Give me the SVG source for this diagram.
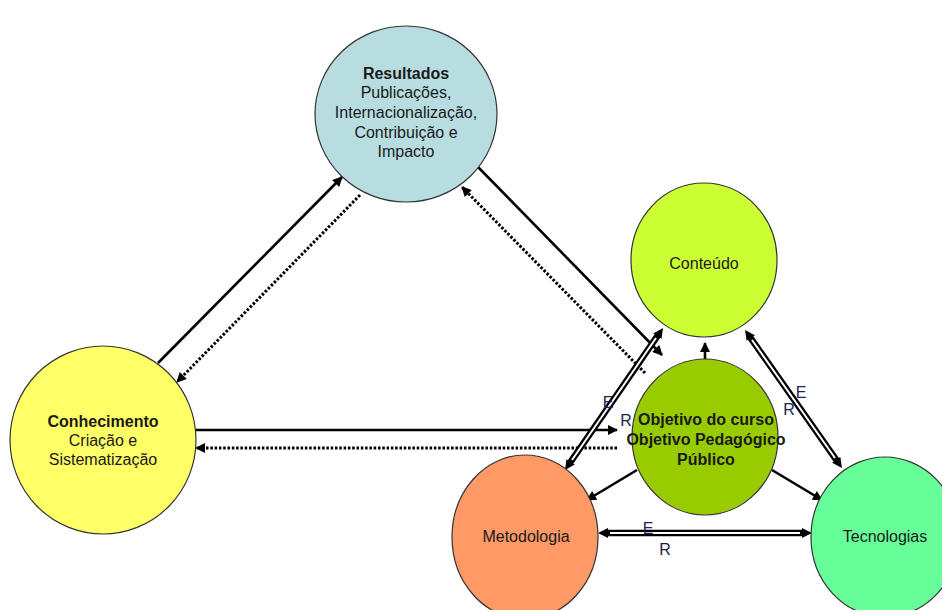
<svg xmlns="http://www.w3.org/2000/svg" width="942" height="610" viewBox="0 0 942 610">
<style>
.n{stroke:#333;stroke-width:1.2}
.t{font-family:"Liberation Sans",Arial,sans-serif;font-size:16px;fill:#1a1a1a;text-anchor:middle}
.b{font-weight:bold}
.s{stroke:#000;stroke-width:2.6;fill:none}
.d{stroke:#000;stroke-width:3;fill:none;stroke-dasharray:2.5 1.8}
.dk{stroke:#000;stroke-width:6.5;fill:none}
.dw{stroke:#fff;stroke-width:2;fill:none}
.lbl{font-family:"Liberation Sans",Arial,sans-serif;font-size:16px;fill:#1c2350;text-anchor:middle}
</style>
<defs>
<marker id="a" viewBox="0 0 10 10" refX="9" refY="5" markerWidth="11" markerHeight="10" markerUnits="userSpaceOnUse" orient="auto-start-reverse">
<path d="M0,0 L10,5 L0,10 z" fill="#000"/>
</marker>
<marker id="a2" viewBox="0 0 10 10" refX="1" refY="5" markerWidth="10" markerHeight="11" markerUnits="userSpaceOnUse" orient="auto-start-reverse">
<path d="M0,0 L10,5 L0,10 z" fill="#000"/>
</marker>
</defs>
<rect width="942" height="610" fill="#fff"/>
<g id="connectors">
<path class="s" d="M158,363 L342,177" marker-end="url(#a)"/>
<path class="d" d="M360,195 L177,382" marker-end="url(#a)"/>
<path class="s" d="M478,167 L662,355" marker-end="url(#a)"/>
<path class="d" d="M645,373 L462,187" marker-end="url(#a)"/>
<path class="s" d="M196,430 L617,430" marker-end="url(#a)"/>
<path class="d" d="M617,448 L196,448" marker-end="url(#a)"/>
<path class="s" d="M705,360 L705,343" marker-end="url(#a)"/>
<path class="s" d="M637,470 L587,500" marker-end="url(#a)"/>
<path class="s" d="M772,470 L822,500" marker-end="url(#a)"/>
<path class="dk" d="M570.1,462.6 L657.9,335.4" marker-start="url(#a2)" marker-end="url(#a2)"/>
<path class="dw" d="M572,460 L656,338"/>
<path class="dk" d="M750.2,337.4 L836.8,460.6" marker-start="url(#a2)" marker-end="url(#a2)"/>
<path class="dw" d="M752,340 L835,458"/>
<path class="dk" d="M607,533 L803,533" marker-start="url(#a2)" marker-end="url(#a2)"/>
<path class="dw" d="M610,533 L800,533"/>
</g>
<g id="resultados">
<ellipse class="n" cx="406" cy="114" rx="91" ry="88" fill="#b7dde1"/>
<text class="t b" x="406" y="79">Resultados</text>
<text class="t" x="406" y="98">Publicações,</text>
<text class="t" x="406" y="118">Internacionalização,</text>
<text class="t" x="406" y="138">Contribuição e</text>
<text class="t" x="406" y="157">Impacto</text>
</g>
<g id="conhecimento">
<ellipse class="n" cx="103" cy="440" rx="93" ry="94" fill="#ffff66"/>
<text class="t b" x="103" y="427">Conhecimento</text>
<text class="t" x="103" y="446">Criação e</text>
<text class="t" x="103" y="465">Sistematização</text>
</g>
<g id="conteudo">
<ellipse class="n" cx="704" cy="260" rx="73" ry="77" fill="#ccff33"/>
<text class="t" x="704" y="269">Conteúdo</text>
</g>
<g id="objetivo">
<ellipse class="n" cx="705" cy="437" rx="73" ry="78" fill="#99cc00"/>
<text class="t b" x="706" y="425">Objetivo do curso</text>
<text class="t b" x="706" y="445">Objetivo Pedagógico</text>
<text class="t b" x="706" y="465">Público</text>
</g>
<g id="metodologia">
<ellipse class="n" cx="525" cy="537" rx="73" ry="82" fill="#ff9966"/>
<text class="t" x="526" y="542">Metodologia</text>
</g>
<g id="tecnologias">
<ellipse class="n" cx="885" cy="537" rx="74" ry="80" fill="#66ff99"/>
<text class="t" x="885" y="542">Tecnologias</text>
</g>
<g id="labels">
<text class="lbl" x="608" y="408">E</text>
<text class="lbl" x="626" y="426">R</text>
<text class="lbl" x="801" y="398">E</text>
<text class="lbl" x="789" y="415">R</text>
<text class="lbl" x="648" y="534">E</text>
<text class="lbl" x="665" y="555">R</text>
</g>
</svg>
